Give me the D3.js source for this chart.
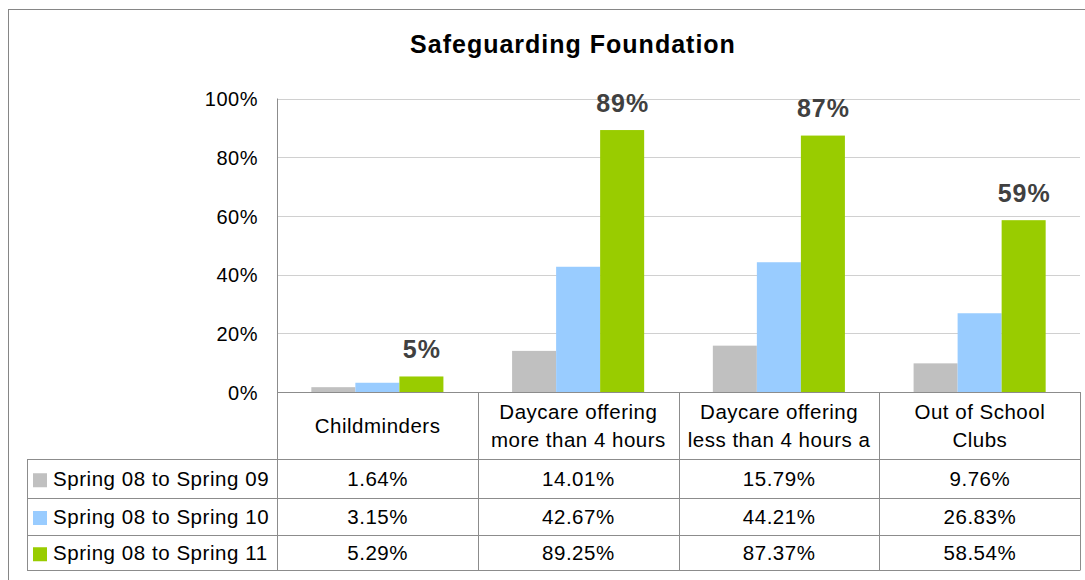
<!DOCTYPE html>
<html>
<head>
<meta charset="utf-8">
<script src="https://cdn.jsdelivr.net/npm/d3@7"></script>
<style>
  html, body { margin: 0; padding: 0; background: #fff; }
  svg { display: block; font-family: "Liberation Sans", Arial, sans-serif; }
</style>
</head>
<body>
<svg id="chart" width="1085" height="580"></svg>
<script>
const title = "Safeguarding Foundation";
const categories = ["Childminders", "Daycare offering more than 4 hours", "Daycare offering less than 4 hours a", "Out of School Clubs"];
const categoryLines = [["Childminders"], ["Daycare offering", "more than 4 hours"], ["Daycare offering", "less than 4 hours a"], ["Out of School", "Clubs"]];
const seriesNames = ["Spring 08 to Spring 09", "Spring 08 to Spring 10", "Spring 08 to Spring 11"];
const seriesColors = ["#C0C0C0", "#99CCFF", "#99CC00"];
const values09 = [0.0164, 0.1401, 0.1579, 0.0976];
const values10 = [0.0315, 0.4267, 0.4421, 0.2683];
const values11 = [0.0529, 0.8925, 0.8737, 0.5854];
const seriesValues = [values09, values10, values11];
const tableLabels = [
  ["1.64%", "14.01%", "15.79%", "9.76%"],
  ["3.15%", "42.67%", "44.21%", "26.83%"],
  ["5.29%", "89.25%", "87.37%", "58.54%"]
];
const yTicks = [0, 0.2, 0.4, 0.6, 0.8, 1.0];

const svg = d3.select("#chart");
const plotLeft = 277, plotRight = 1080, plotTop = 98.5, plotBottom = 392;
const tableLeft = 27;
const catRowBottom = 459;
const rowEdges = [459, 497.5, 534.5, 570];

// outer border
svg.append("rect").attr("x", 8.5).attr("y", 9.5).attr("width", 1200).attr("height", 700)
  .attr("fill", "#fff").attr("stroke", "#868686").attr("stroke-width", 1);

// title
svg.append("text").attr("x", 573).attr("y", 53).attr("text-anchor", "middle")
  .attr("font-size", 25).attr("font-weight", "bold").attr("letter-spacing", 1)
  .attr("fill", "#000").text(title);

const x = d3.scaleBand().domain(categories).range([plotLeft, plotRight]).padding(0);
const xs = d3.scaleBand().domain(d3.range(seriesNames.length)).range([0, x.bandwidth()])
  .paddingInner(0).paddingOuter(0.78);
const y = d3.scaleLinear().domain([0, 1]).range([plotBottom, plotTop]);

// gridlines
svg.append("g").selectAll("line").data(yTicks.filter(d => d > 0)).join("line")
  .attr("x1", plotLeft).attr("x2", plotRight)
  .attr("y1", d => Math.round(y(d)) + 0.5).attr("y2", d => Math.round(y(d)) + 0.5)
  .attr("stroke", "#D0D0D0").attr("stroke-width", 1);

// y axis
const yAxis = d3.axisLeft(y).tickValues(yTicks).tickFormat(d3.format(".0%")).tickSize(0).tickPadding(19);
const yg = svg.append("g").attr("transform", `translate(${plotLeft},0)`).call(yAxis);
yg.select(".domain").remove();
yg.selectAll("text").attr("font-size", 20).attr("fill", "#000").attr("letter-spacing", 0.5)
  .attr("font-family", "Liberation Sans, Arial, sans-serif").attr("dy", "0.36em");

// bars
seriesValues.forEach((vals, si) => {
  svg.append("g").selectAll("rect").data(vals).join("rect")
    .attr("x", (d, i) => x(categories[i]) + xs(si))
    .attr("width", xs.bandwidth())
    .attr("y", d => y(d))
    .attr("height", d => y(0) - y(d))
    .attr("fill", seriesColors[si]);
});

// data labels on last series
svg.append("g").selectAll("text").data(values11).join("text")
  .attr("x", (d, i) => x(categories[i]) + xs(2) + xs.bandwidth() / 2 + 0.5)
  .attr("y", d => y(d) - 18.5)
  .attr("text-anchor", "middle").attr("font-size", 25).attr("font-weight", "bold").attr("letter-spacing", 1)
  .attr("fill", "#404040").text(d => d3.format(".0%")(d));

// axis lines
const lineColor = "#8C8C8C";
svg.append("line").attr("x1", plotLeft + 0.5).attr("x2", plotLeft + 0.5).attr("y1", plotTop).attr("y2", 570)
  .attr("stroke", lineColor);
svg.append("line").attr("x1", plotLeft).attr("x2", plotRight + 0.5).attr("y1", plotBottom + 0.5).attr("y2", plotBottom + 0.5)
  .attr("stroke", lineColor);

// table vertical lines
const vx = categories.map(c => x(c)).slice(1).concat([plotRight]);
svg.append("g").selectAll("line").data(vx).join("line")
  .attr("x1", d => Math.round(d) + 0.5).attr("x2", d => Math.round(d) + 0.5)
  .attr("y1", plotBottom).attr("y2", 570).attr("stroke", lineColor);
svg.append("line").attr("x1", tableLeft + 0.5).attr("x2", tableLeft + 0.5).attr("y1", catRowBottom).attr("y2", 570)
  .attr("stroke", lineColor);
// table horizontal lines
svg.append("g").selectAll("line").data(rowEdges).join("line")
  .attr("x1", tableLeft).attr("x2", plotRight + 0.5)
  .attr("y1", d => Math.round(d) + 0.5).attr("y2", d => Math.round(d) + 0.5).attr("stroke", lineColor);

// category labels
const catG = svg.append("g");
categoryLines.forEach((lines, i) => {
  const cx = x(categories[i]) + x.bandwidth() / 2 + 0.25;
  const mid = (plotBottom + catRowBottom) / 2;
  const lh = 28;
  lines.forEach((ln, j) => {
    catG.append("text").attr("x", cx)
      .attr("y", mid + (j - (lines.length - 1) / 2) * lh + 7)
      .attr("text-anchor", "middle").attr("font-size", 20.5).attr("letter-spacing", 0.5)
      .attr("fill", "#000").text(ln);
  });
});

// table rows
seriesNames.forEach((name, si) => {
  const cy = (rowEdges[si] + rowEdges[si + 1]) / 2;
  svg.append("rect").attr("x", 33).attr("y", cy - 5).attr("width", 14).attr("height", 14)
    .attr("fill", seriesColors[si]);
  svg.append("text").attr("x", 53).attr("y", cy + 7.5).attr("font-size", 20.5).attr("letter-spacing", 0.55)
    .attr("fill", "#000").text(name);
  tableLabels[si].forEach((lab, i) => {
    svg.append("text").attr("x", x(categories[i]) + x.bandwidth() / 2 + 0.25).attr("y", cy + 7.5)
      .attr("text-anchor", "middle").attr("font-size", 20.5).attr("letter-spacing", 0.5)
      .attr("fill", "#000").text(lab);
  });
});
</script>
</body>
</html>
